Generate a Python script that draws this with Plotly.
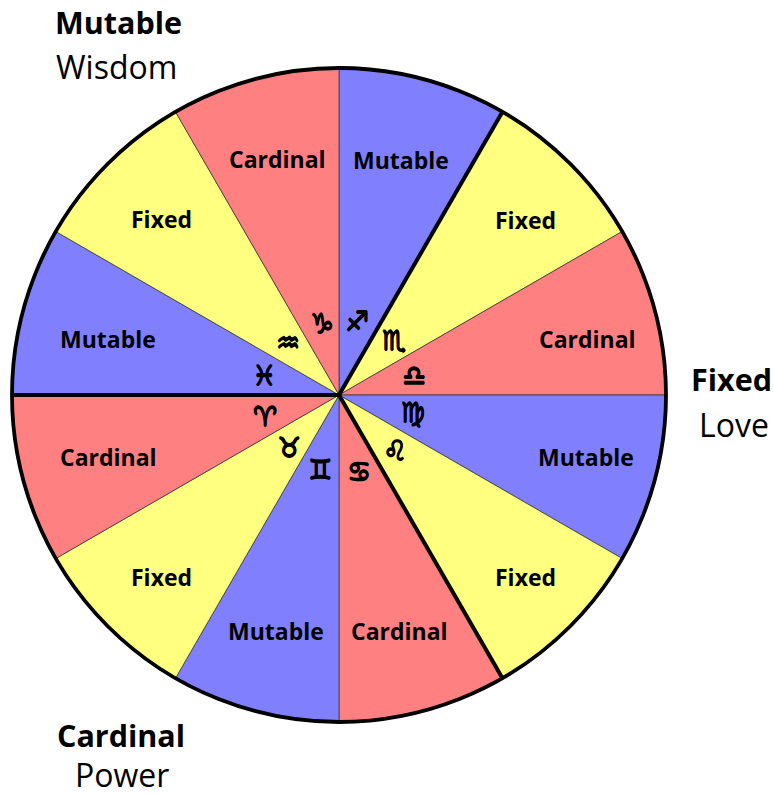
import math
import plotly.graph_objects as go

W, H = 774, 795
CX, CY, R = 339, 395, 327

modes = ["Mutable", "Fixed", "Cardinal"] * 4
slice_values = [30] * 12
symbols = ["\u2650", "\u264F", "\u264E", "\u264D", "\u264C", "\u264B",
           "\u264A", "\u2649", "\u2648", "\u2653", "\u2652", "\u2651"]
mode_colors = {"Mutable": "#8080FF", "Fixed": "#FFFF80", "Cardinal": "#FF8080"}
label_xy = [(401, 160), (525, 220), (587, 339), (586, 457), (525, 577), (399, 631),
            (276, 631), (161, 577), (108, 457), (108, 339), (161, 219), (277, 159)]
symbol_xy = [(357, 321), (394, 340), (414, 375), (413, 412), (395, 450), (359, 471),
             (320, 469), (289, 447), (265, 416), (264, 375), (288, 342), (322, 323)]
heavy_angles = [30, 150, 270]
captions = [("Mutable", "Wisdom", 119, 116, 22, 67), ("Fixed", "Love", 731, 734, 379, 424),
            ("Cardinal", "Power", 121, 122, 735, 774)]

FONT = "Open Sans"


def px(x):
    return x / W


def py(y):
    return 1 - y / H


fig = go.Figure(go.Pie(
    values=slice_values,
    labels=[f"{m} {i}" for i, m in enumerate(modes)],
    marker=dict(colors=[mode_colors[m] for m in modes], line=dict(color="#333333", width=0.75)),
    textinfo="none", hoverinfo="skip", sort=False, direction="clockwise", rotation=0,
    showlegend=False,
    domain=dict(x=[px(CX - R), px(CX + R)], y=[py(CY + R), py(CY - R)]),
))

shapes = [dict(type="circle", xref="paper", yref="paper",
               x0=px(CX - R), x1=px(CX + R), y0=py(CY + R), y1=py(CY - R),
               line=dict(color="black", width=3.8))]
for a in heavy_angles:
    t = math.radians(a)
    shapes.append(dict(type="line", xref="paper", yref="paper",
                       x0=px(CX), y0=py(CY),
                       x1=px(CX + R * math.sin(t)), y1=py(CY - R * math.cos(t)),
                       line=dict(color="black", width=4)))

ann = []


def add(text, x, y, size, weight="normal", family=FONT, shadow="none"):
    ann.append(dict(text=text, x=px(x), y=py(y), xref="paper", yref="paper",
                    xanchor="center", yanchor="middle", showarrow=False,
                    font=dict(family=family, size=size, color="black", weight=weight, shadow=shadow)))


for m, (x, y) in zip(modes, label_xy):
    add(m, x, y, 23, 700)
for s, (x, y) in zip(symbols, symbol_xy):
    add(s + "\uFE0E", x, y, 27, 700, "DejaVu Sans",
        "0.6px 0 0 black, -0.6px 0 0 black, 0 0.6px 0 black, 0 -0.6px 0 black")
for head, sub, x1, x2, y1, y2 in captions:
    add(head, x1, y1, 30.5, 700)
    add(sub, x2, y2, 32, 400)

fig.update_layout(width=W, height=H, margin=dict(l=0, r=0, t=0, b=0),
                  paper_bgcolor="white", shapes=shapes, annotations=ann)
fig.write_html("out.html", config={"displayModeBar": False},
               post_script="document.body.style.margin='0';")
